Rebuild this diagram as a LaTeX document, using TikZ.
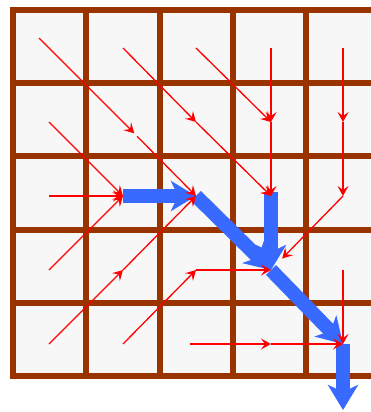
\documentclass[tikz,border=0pt]{standalone}
\usepackage{tikz}
\usetikzlibrary{arrows.meta}
\definecolor{gridbrown}{RGB}{153,51,0}
\definecolor{cellgray}{RGB}{247,247,247}
\definecolor{flowblue}{RGB}{56,106,255}

\begin{document}
\begin{tikzpicture}[
    x=1pt, y=-1pt,
    >={Stealth[length=10pt, width=11pt, inset=4pt]},
    gridline/.style={gridbrown, line width=6pt},
    flow/.style={->, red, line width=1.3pt},
    pathflow/.style={-{Stealth[length=25pt, width=30pt, inset=7pt]}, flowblue, line width=14pt},
]
    \useasboundingbox (0,0) rectangle (371,412);
    % board
    \fill[cellgray] (13,10) rectangle (379,376);
    \foreach \k in {0,...,5} {
        \draw[gridline] ({13+73.25*\k},7) -- ({13+73.25*\k},379);
        \draw[gridline] (10,{10+73.2*\k}) -- (382,{10+73.2*\k});
    }
    % cell points
    \foreach \x [count=\i from 0] in {49,123,196,271,343} {
        \foreach \j in {0,...,4} {
            \coordinate (c\i\j) at (\x,{48+74*\j});
        }
    }
    \coordinate (exit) at (343,410);

    % best path
    \draw[pathflow] (c12) -- (c22);
    \draw[pathflow] (c22) -- (c33);
    \draw[pathflow] ([yshift=4pt]c32) -- (c33);
    \draw[pathflow] (c33) -- (c44);
    \draw[pathflow] (c44) -- (exit);

    % other moves
    \draw[flow, shorten <=-14pt, shorten >=-16pt] (c00) -- (c11);
    \draw[flow] (c10) -- (c21);
    \draw[flow] (c20) -- (c31);
    \draw[flow] (c30) -- (c31);
    \draw[flow] (c40) -- (c41);
    \draw[flow] (c01) -- (c12);
    \draw[flow, shorten <=20pt] (c11) -- (c22);
    \draw[flow] (c21) -- (c32);
    \draw[flow] (c31) -- (c32);
    \draw[flow] (c41) -- (c42);
    \draw[flow] (c02) -- (c12);
    \draw[flow, shorten >=16pt] (c42) -- (c33);
    \draw[flow] (c03) -- (c12);
    \draw[flow] (c13) -- (c22);
    \draw[flow] (c23) -- (c33);
    \draw[flow] (c43) -- (c44);
    \draw[flow] (c04) -- (c13);
    \draw[flow] (c14) -- (c23);
    \draw[flow, shorten <=-6pt] (c24) -- (c34);
    \draw[flow] (c34) -- (c44);
\end{tikzpicture}
\end{document}
